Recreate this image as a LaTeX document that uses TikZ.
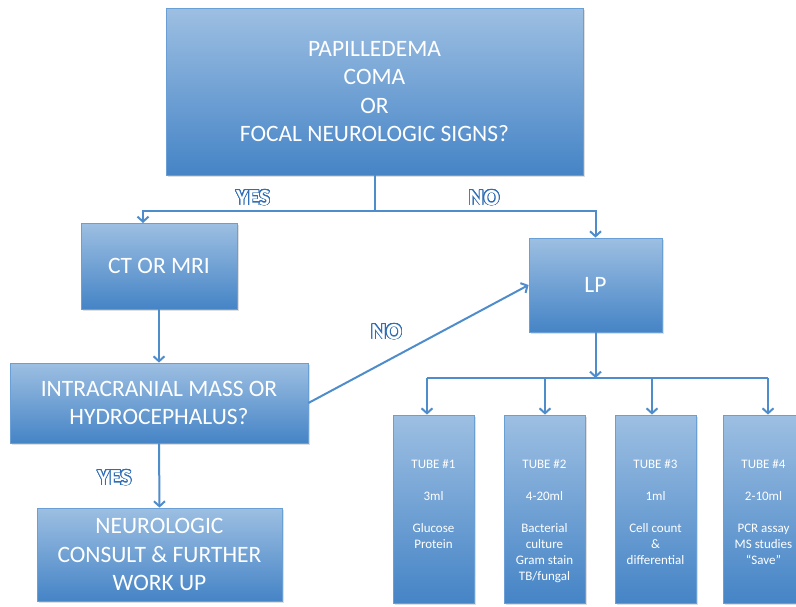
\documentclass[tikz,border=0pt]{standalone}
\usepackage{fontspec}
\setmainfont{Carlito}
\usepackage{contour}
\contourlength{0.9pt}
\contournumber{24}
\usetikzlibrary{arrows.meta,shadows}
\definecolor{boxtop}{HTML}{9DBFE2}
\definecolor{boxbot}{HTML}{4584C6}
\definecolor{boxedge}{HTML}{6A9FD6}
\definecolor{linec}{HTML}{4E8CCB}
\definecolor{lblc}{HTML}{2F6DB5}
\begin{document}
\begin{tikzpicture}[x=1pt,y=-1pt,
  box/.style={draw=boxedge, line width=0.8pt, top color=boxtop, bottom color=boxbot,
    text=white, align=center, inner sep=0pt,
    drop shadow={shadow xshift=1.5pt, shadow yshift=-2pt, opacity=0.25},
    font=\fontsize{23.5}{28.3}\selectfont},
  tubetxt/.style={text=white, align=center, inner sep=0pt, font=\fontsize{13}{16}\selectfont},
  line/.style={draw=linec, line width=2pt},
  arr/.style={line, -{Straight Barb[length=5pt,width=11pt]}},
  lbl/.style={text=white, inner sep=0pt, font=\bfseries\fontsize{23}{23}\selectfont}]
\useasboundingbox (0,0) rectangle (796,606);

% boxes
\node[box, minimum width=417pt, minimum height=167pt] (top) at (374.5,91.5)
  {PAPILLEDEMA\\COMA\\OR\\FOCAL NEUROLOGIC SIGNS?};
\node[box, minimum width=156pt, minimum height=86pt] (ct) at (159,266) {CT OR MRI};
\node[box, minimum width=298pt, minimum height=80pt] (intra) at (159,403)
  {INTRACRANIAL MASS OR\\HYDROCEPHALUS?};
\node[box, minimum width=245pt, minimum height=93pt] (neuro) at (159.5,554.5)
  {NEUROLOGIC\\CONSULT \& FURTHER\\WORK UP};
\node[box, minimum width=133pt, minimum height=94pt] (lp) at (595.5,285) {LP};

\node[box, minimum width=81pt, minimum height=188pt] (t1) at (433.5,509) {};
\node[box, minimum width=81pt, minimum height=188pt] (t2) at (544.5,509) {};
\node[box, minimum width=81pt, minimum height=188pt] (t3) at (655.5,509) {};
\node[box, minimum width=81pt, minimum height=188pt] (t4) at (763.5,509) {};

\node[tubetxt, anchor=north] (t1x) at (433.5,459.5)
  {TUBE \#1\\[16pt]3ml\\[16pt]Glucose\\Protein};
\node[tubetxt, anchor=north] (t2x) at (544.5,459.5)
  {TUBE \#2\\[16pt]4-20ml\\[16pt]Bacterial\\culture\\Gram stain\\TB/fungal};
\node[tubetxt, anchor=north] (t3x) at (655.5,459.5)
  {TUBE \#3\\[16pt]1ml\\[16pt]Cell count\\\&\\differential};
\node[tubetxt, anchor=north] (t4x) at (763.5,459.5)
  {TUBE \#4\\[16pt]2-10ml\\[16pt]PCR assay\\MS studies\\“Save”};

% connectors
\coordinate (j1) at (374.5,211);
\coordinate (ctin) at (143,223);
\draw[line] (top.south) -- (j1);
\draw[arr] (j1) -| (ctin);
\draw[arr] (j1) -| (lp.north);
\draw[arr] (ct.south) -- (intra.north);
\draw[arr] (intra.east) -- (lp.west);
\draw[arr] (intra.south) -- (neuro.north);

\coordinate (j2) at (595.5,378);
\coordinate (b1) at (427,378);
\coordinate (b2) at (545,378);
\coordinate (b3) at (652,378);
\coordinate (b4) at (768,378);
\draw[arr] (lp.south) -- (j2);
\draw[line] (b1) -- (b4);
\draw[arr] (b1) -- (b1 |- t1.north);
\draw[arr] (b2) -- (b2 |- t2.north);
\draw[arr] (b3) -- (b3 |- t3.north);
\draw[arr] (b4) -- (b4 |- t4.north);

% labels
\node[lbl] (yes1) at (253,198) {\contour{lblc}{YES}};
\node[lbl] (no1) at (484,198) {\contour{lblc}{NO}};
\node[lbl] (no2) at (386.5,332) {\contour{lblc}{NO}};
\node[lbl] (yes2) at (114.5,478) {\contour{lblc}{YES}};
\end{tikzpicture}
\end{document}
